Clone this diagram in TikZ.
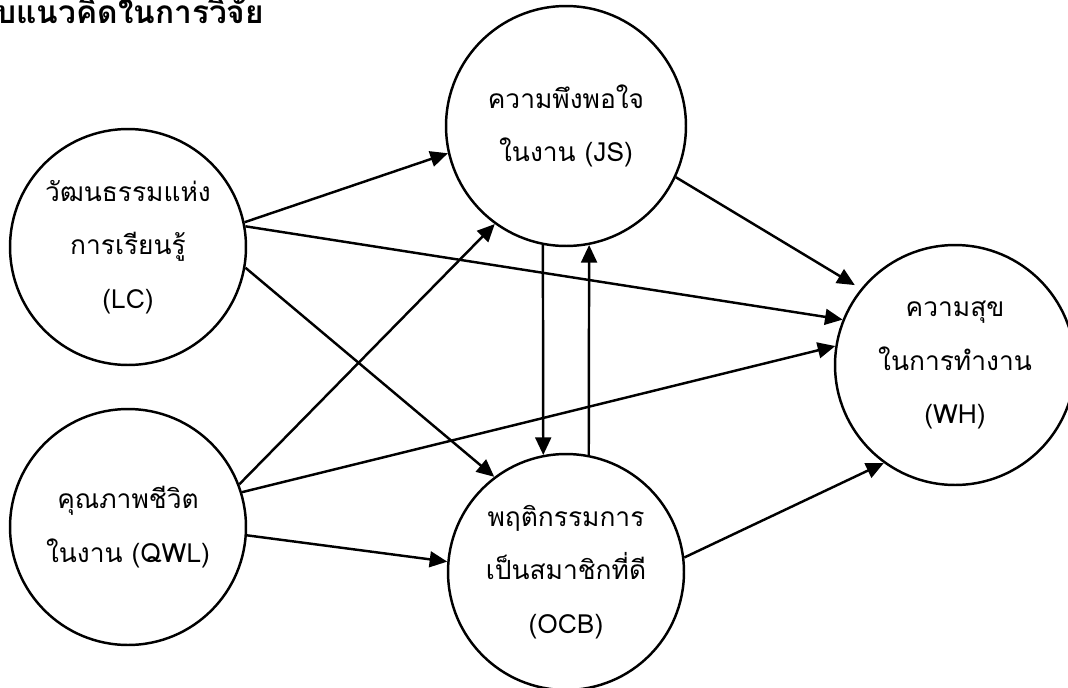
\documentclass[tikz,border=0pt]{standalone}
\usepackage{fontspec}
\newfontfamily\thaifont[Script=Thai]{Loma}
\usetikzlibrary{arrows.meta}
\tikzset{
  var/.style={draw,circle,line width=1.4pt,minimum size=4.72cm,inner sep=0pt,
    align=center,font=\thaifont\fontsize{15}{30.6}\selectfont},
  link/.style={line width=1.4pt,-{Triangle[length=10pt,width=9pt]}}
}
\begin{document}
\begin{tikzpicture}[x=0.02cm,y=-0.02cm]
    \useasboundingbox (0,0) rectangle (1068,687);
    \node[anchor=east,font=\thaifont\bfseries\fontsize{18}{20}\selectfont] (title) at (270,11) {กรอบแนวคิดในการวิจัย};
    % variables
    \node[var] (lc) at (128,247) {วัฒนธรรมแห่ง\\การเรียนรู้\\(LC)};
    \node[var] (qwl) at (128,527) {คุณภาพชีวิต\\ในงาน (QWL)};
    \node[var,minimum size=4.8cm] (js) at (566,126) {ความพึงพอใจ\\ในงาน (JS)};
    \node[var] (ocb) at (566,572) {พฤติกรรมการ\\เป็นสมาชิกที่ดี\\(OCB)};
    \node[var,minimum size=4.8cm] (wh) at (955,365) {ความสุข\\ในการทำงาน\\(WH)};
    % paths
    \draw[link] (lc.12) -- (js.193);
    \draw[link] (lc.10) -- (wh.158);
    \draw[link] (lc.-10) -- (ocb.127);
    \draw[link] (qwl.21) -- (js.234);
    \draw[link] (qwl.17) -- (wh.171);
    \draw[link] (qwl.-4) -- (ocb.175);
    \draw[link,shorten >=4pt] (js.-25) -- (wh.141);
    \draw[link] (js.259) -- (ocb.101);
    \draw[link] (ocb.79) -- (js.281);
    \draw[link] (ocb.7) -- (wh.234);
\end{tikzpicture}
\end{document}
